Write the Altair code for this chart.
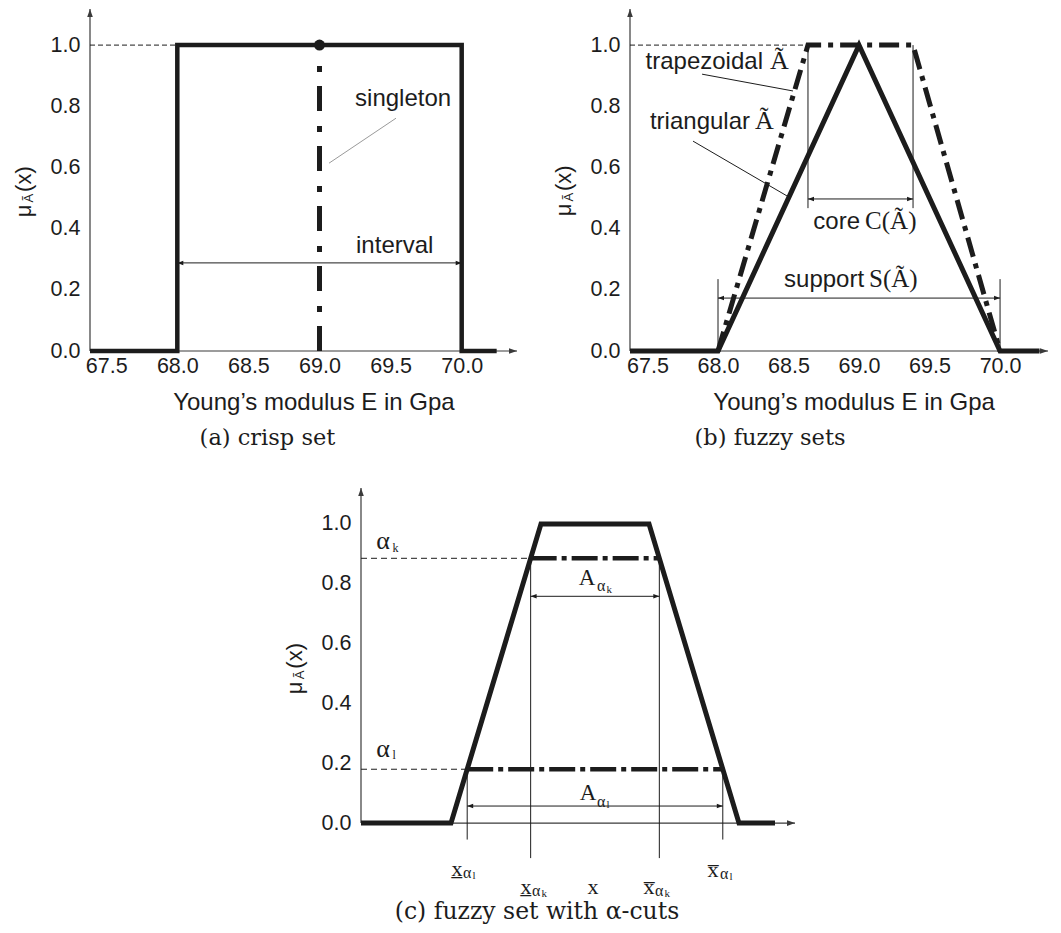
import altair as alt
import pandas as pd

SANS = "Liberation Sans"
SERIF = "Liberation Serif"
CAPTION_FONT = "DejaVu Serif"
INK = "#1c1c1c"
AXIS_INK = "#3a3a3a"
LEADER_GREY = "#9a9a9a"

MU_TICKS = [0.0, 0.2, 0.4, 0.6, 0.8, 1.0]
E_TICKS = [67.5, 68.0, 68.5, 69.0, 69.5, 70.0]
E_TITLE = "Young\u2019s modulus E in Gpa"

# ---------------- panel (a): crisp set ----------------
A_XDOM = [67.386, 70.389]
A_YDOM = [0.0, 1.118]
crisp_x = [67.386, 68.0, 68.0, 70.0, 70.0, 70.246]
crisp_y = [0.0, 0.0, 1.0, 1.0, 0.0, 0.0]
singleton_x = 69.0
singleton_top = 0.975
interval_lo, interval_hi, interval_y = 68.0, 70.0, 0.288

# ---------------- panel (b): fuzzy sets ----------------
B_XDOM = [67.376, 70.34]
B_YDOM = [0.0, 1.118]
tri_x = [67.376, 68.0, 69.0, 70.0, 70.28]
tri_y = [0.0, 0.0, 1.0, 0.0, 0.0]
trap_x = [68.0, 68.638, 69.383, 70.0]
trap_y = [0.0, 1.0, 1.0, 0.0]
core_lo, core_hi, core_y, core_tick_bottom = 68.638, 69.383, 0.497, 0.467
supp_lo, supp_hi, supp_y, supp_tick_top = 68.0, 70.0, 0.173, 0.235

# ---------------- panel (c): alpha cuts ----------------
C_XDOM = [0.0, 14.467]
C_YDOM = [-0.12, 1.12]
fz_x = [0.0, 3.0, 6.0, 9.6, 12.6, 13.8]
fz_y = [0.0, 0.0, 1.0, 1.0, 0.0, 0.0]
alpha_k, alpha_l = 0.885, 0.18
cut_k = [5.655, 9.945]
cut_l = [3.54, 12.06]
A_k_arrow_y, A_l_arrow_y = 0.758, 0.057
drop_k, drop_l = -0.117, -0.055

AXIS_HEAD = "M0,0L-2,-0.7L-2,0.7Z"
SMALL_HEAD = "M0,0L-2,-0.75L-2,0.75Z"


class Panel:
    def __init__(self, xdom, ydom, xaxis, yaxis):
        self.sx = alt.Scale(domain=xdom, nice=False, zero=False)
        self.sy = alt.Scale(domain=ydom, nice=False, zero=False)
        self.xaxis = xaxis
        self.yaxis = yaxis
        self.layers = []

    def xy(self):
        return dict(
            x=alt.X("x:Q", scale=self.sx, axis=self.xaxis, title=None),
            y=alt.Y("y:Q", scale=self.sy, axis=self.yaxis, title=None),
        )

    def path(self, xs, ys, width, dash=None, color=INK):
        df = pd.DataFrame({"x": xs, "y": ys, "i": list(range(len(xs)))})
        kw = dict(color=color, strokeWidth=width, strokeJoin="miter", strokeCap="butt")
        if dash:
            kw["strokeDash"] = dash
        self.layers.append(alt.Chart(df).mark_line(**kw).encode(order="i:Q", **self.xy()))

    def segs(self, rows, width=1.0, dash=None, color=INK):
        df = pd.DataFrame(rows, columns=["x", "y", "x2", "y2"])
        kw = dict(color=color, strokeWidth=width, strokeCap="butt")
        if dash:
            kw["strokeDash"] = dash
        self.layers.append(
            alt.Chart(df).mark_rule(**kw).encode(x2="x2:Q", y2="y2:Q", **self.xy())
        )

    def heads(self, rows, shape, size, color=INK):
        df = pd.DataFrame(rows, columns=["x", "y", "ang"])
        self.layers.append(
            alt.Chart(df)
            .mark_point(shape=shape, filled=True, size=size, color=color, opacity=1)
            .encode(angle=alt.Angle("ang:Q", scale=None), **self.xy())
        )

    def double_arrow(self, x1, x2, y, width=1.0):
        self.segs([(x1, y, x2, y)], width=width)
        self.heads([(x1, y, 180), (x2, y, 0)], SMALL_HEAD, 36)

    def text(self, rows, font, align="center", baseline="middle", angle=0, color=INK):
        df = pd.DataFrame(rows, columns=["x", "y", "t", "s"])
        self.layers.append(
            alt.Chart(df)
            .mark_text(font=font, align=align, baseline=baseline, angle=angle, color=color)
            .encode(text="t:N", size=alt.Size("s:Q", scale=None), **self.xy())
        )

    def axes_lines(self, x0, x1, y0, y1):
        self.segs([(x0, y0, x1, y0), (x0, y0, x0, y1)], width=1.2, color=AXIS_INK)
        self.heads([(x1, y0, 0), (x0, y1, 270)], AXIS_HEAD, 64, color=AXIS_INK)

    def chart(self, w, h):
        return alt.layer(*self.layers).properties(width=w, height=h)


def y_axis():
    return alt.Axis(values=MU_TICKS, format=".1f", domain=False, ticks=False, tickSize=0,
                    grid=False, labelFont=SANS, labelFontSize=21.5, labelColor=INK,
                    labelPadding=10, labelFlush=False)


def x_axis():
    return alt.Axis(values=E_TICKS, format=".1f", domain=False, ticks=False, tickSize=0,
                    grid=False, labelFont=SANS, labelFontSize=21.5, labelColor=INK,
                    labelPadding=4, labelFlush=False)


# ---------------- build (a) ----------------
pa = Panel(A_XDOM, A_YDOM, x_axis(), y_axis())
pa.axes_lines(A_XDOM[0], A_XDOM[1], 0.0, A_YDOM[1])
pa.segs([(A_XDOM[0], 1.0, 68.0, 1.0)], width=1.0, dash=[5, 3])
pa.segs([(69.538, 0.761, 69.067, 0.614)], width=1.0, color=LEADER_GREY)
pa.double_arrow(interval_lo, interval_hi, interval_y)
pa.segs([(singleton_x, 0.0, singleton_x, singleton_top)], width=5, dash=[25, 14, 6, 15])
pa.path(crisp_x, crisp_y, 4.5)
pa.layers.append(
    alt.Chart(pd.DataFrame({"x": [singleton_x], "y": [1.0]}))
    .mark_circle(size=120, color=INK, opacity=1)
    .encode(**pa.xy())
)
pa.text([(69.250, 0.824, "singleton", 24), (69.257, 0.343, "interval", 24)], SANS, align="left")
pa.text([(68.961, -0.170, E_TITLE, 24)], SANS)
pa.text([(68.634, -0.284, "(a) crisp set", 22.5)], CAPTION_FONT)
pa.text([(66.922, 0.458, "\u03bc", 22), (66.957, 0.500, "\u00c3", 13),
         (66.922, 0.562, "(x)", 22)], SANS, angle=270)
chart_a = pa.chart(427, 342)

# ---------------- build (b) ----------------
pb = Panel(B_XDOM, B_YDOM, x_axis(), y_axis())
pb.axes_lines(B_XDOM[0], B_XDOM[1], 0.0, B_YDOM[1])
pb.segs([(B_XDOM[0], 1.0, trap_x[1], 1.0)], width=1.0, dash=[5, 3])
pb.segs([(core_lo, 1.0, core_lo, core_tick_bottom), (core_hi, 1.0, core_hi, core_tick_bottom),
         (supp_lo, supp_tick_top, supp_lo, 0.0), (supp_hi, supp_tick_top, supp_hi, 0.0)],
        width=1.0)
pb.segs([(67.887, 0.905, 68.532, 0.85), (67.823, 0.686, 68.489, 0.507)], width=1.0)
pb.double_arrow(core_lo, core_hi, core_y)
pb.double_arrow(supp_lo, supp_hi, supp_y)
pb.path(trap_x, trap_y, 5, dash=[20, 7, 5, 7])
pb.path(tri_x, tri_y, 5)
pb.text([(68.319, 0.922, "trapezoidal", 24), (68.227, 0.726, "triangular", 24),
         (69.007, 0.399, "core", 24), (69.036, 0.209, "support", 24)],
        SANS, align="right", baseline="alphabetic")
pb.text([(68.369, 0.922, "\u00c3", 26), (68.262, 0.726, "\u00c3", 26),
         (69.043, 0.399, "C(\u00c3)", 25), (69.071, 0.209, "S(\u00c3)", 25)],
        SERIF, align="left", baseline="alphabetic")
pb.text([(68.965, -0.170, E_TITLE, 24)], SANS)
pb.text([(68.369, -0.284, "(b) fuzzy sets", 22.5)], CAPTION_FONT)
pb.text([(66.908, 0.461, "\u03bc", 22), (66.943, 0.503, "\u00c3", 13),
         (66.908, 0.565, "(x)", 22)], SANS, angle=270)
chart_b = pb.chart(418, 342)

# ---------------- build (c) ----------------
pc = Panel(C_XDOM, C_YDOM, None, y_axis())
pc.axes_lines(C_XDOM[0], C_XDOM[1], 0.0, C_YDOM[1])
pc.segs([(0.0, alpha_k, cut_k[0], alpha_k), (0.0, alpha_l, cut_l[0], alpha_l)],
        width=1.0, dash=[6, 4])
pc.segs([(cut_k[0], alpha_k, cut_k[0], drop_k), (cut_k[1], alpha_k, cut_k[1], drop_k),
         (cut_l[0], alpha_l, cut_l[0], drop_l), (cut_l[1], alpha_l, cut_l[1], drop_l)],
        width=1.0)
pc.double_arrow(cut_k[0], cut_k[1], A_k_arrow_y)
pc.double_arrow(cut_l[0], cut_l[1], A_l_arrow_y)
pc.segs([(cut_k[0], alpha_k, cut_k[1], alpha_k), (cut_l[0], alpha_l, cut_l[1], alpha_l)],
        width=4.5, dash=[26, 5, 5, 5])
pc.path(fz_x, fz_y, 5)
pc.text([(0.733, 0.943, "\u03b1", 26), (0.733, 0.247, "\u03b1", 26),
         (7.533, 0.819, "A", 23), (7.567, 0.100, "A", 23),
         (3.2, -0.154, "x\u0332", 22), (5.5, -0.214, "x\u0332", 22),
         (7.733, -0.214, "x", 22),
         (9.6, -0.214, "x\u0305", 22), (11.733, -0.157, "x\u0305", 22)], SERIF)
pc.text([(1.05, 0.921, "k", 12), (1.05, 0.226, "l", 12),
         (7.867, 0.791, "\u03b1", 16), (8.183, 0.778, "k", 11),
         (7.867, 0.072, "\u03b1", 16), (8.183, 0.062, "l", 11),
         (3.4, -0.167, "\u03b1", 16), (3.717, -0.176, "l", 11),
         (5.7, -0.227, "\u03b1", 16), (6.017, -0.236, "k", 11),
         (9.8, -0.227, "\u03b1", 16), (10.117, -0.236, "k", 11),
         (11.967, -0.171, "\u03b1", 16), (12.283, -0.180, "l", 11)], SERIF, align="left")
pc.text([(5.867, -0.298, "(c) fuzzy set with \u03b1-cuts", 23.5)], CAPTION_FONT)
pc.text([(-2.2, 0.452, "\u03bc", 22), (-2.033, 0.495, "\u00c3", 13),
         (-2.2, 0.559, "(x)", 22)], SANS, angle=270)
chart_c = pc.chart(434, 371)

spacer = (
    alt.Chart(pd.DataFrame({"x": [0.0]}))
    .mark_point(opacity=0)
    .encode(x=alt.X("x:Q", axis=None), y=alt.Y("x:Q", axis=None))
    .properties(width=1, height=1)
)

top = alt.hconcat(chart_a, chart_b, spacing=113, bounds="flush")
bottom = alt.hconcat(spacer, chart_c, spacing=270, bounds="flush")
chart = (
    alt.vconcat(top, bottom, spacing=35)
    .properties(padding={"left": 5, "top": 0, "right": 0, "bottom": 0}, background="white")
    .configure_view(stroke=None)
)

chart.save("out.html", embed_options={"renderer": "svg", "actions": False})
